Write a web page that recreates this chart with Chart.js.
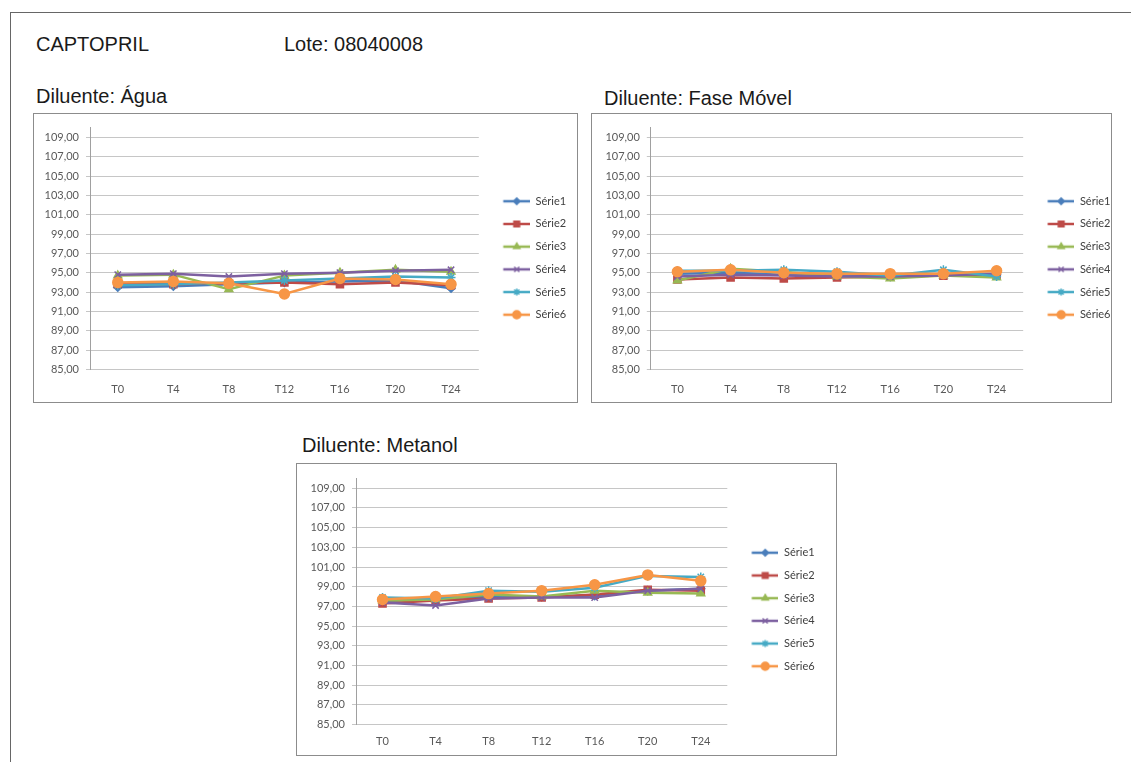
<!DOCTYPE html>
<html>
<head>
<meta charset="utf-8">
<script src="https://cdn.jsdelivr.net/npm/chart.js@4/dist/chart.umd.min.js"></script>
<style>
    body { margin: 0; background: #fff; width: 1131px; height: 762px; overflow: hidden; position: relative; }
    .frame { position: absolute; left: 10px; top: 12px; width: 1130px; height: 760px; border-top: 1px solid #666; border-left: 1px solid #666; }
    .txt { position: absolute; font: 20px "Liberation Sans", Arial, sans-serif; line-height: 24px; color: #1a1a1a; white-space: nowrap; }
    .box { position: absolute; border: 1px solid #8c8c8c; background: #fff; }
    .box canvas { display: block; }
</style>
</head>
<body>
<div class="frame"></div>
<div class="txt" style="left:36px;top:32px">CAPTOPRIL</div>
<div class="txt" style="left:284px;top:32px">Lote: 08040008</div>
<div class="txt" style="left:36px;top:84px">Diluente: Água</div>
<div class="txt" style="left:604px;top:86px">Diluente: Fase Móvel</div>
<div class="txt" style="left:302px;top:433px">Diluente: Metanol</div>

<div class="box" style="left:33px;top:113px;width:543px;height:288px"><canvas id="chartAgua" width="543" height="288"></canvas></div>
<div class="box" style="left:591px;top:113px;width:519px;height:288px"><canvas id="chartFase" width="519" height="288"></canvas></div>
<div class="box" style="left:296px;top:463px;width:539px;height:291px"><canvas id="chartMetanol" width="539" height="291"></canvas></div>

<script>
// --- Data ---
const timePoints = ['T0', 'T4', 'T8', 'T12', 'T16', 'T20', 'T24'];
const seriesNames = ['Série1', 'Série2', 'Série3', 'Série4', 'Série5', 'Série6'];
const yTickValues = [85, 87, 89, 91, 93, 95, 97, 99, 101, 103, 105, 107, 109];

// Diluente: Água
const agua1 = [93.5, 93.6, 93.8, 94.0, 94.1, 94.2, 93.4];
const agua2 = [93.8, 93.8, 93.9, 94.0, 93.8, 94.0, 93.7];
const agua3 = [94.7, 94.8, 93.3, 94.7, 95.0, 95.3, 95.1];
const agua4 = [94.8, 94.9, 94.6, 94.9, 95.0, 95.2, 95.3];
const agua5 = [93.7, 93.8, 94.0, 94.2, 94.4, 94.6, 94.5];
const agua6 = [94.0, 94.1, 93.9, 92.8, 94.4, 94.3, 93.8];

// Diluente: Fase Móvel
const fase1 = [94.9, 95.0, 94.8, 94.7, 94.6, 94.8, 94.8];
const fase2 = [94.3, 94.5, 94.4, 94.5, 94.6, 94.7, 94.8];
const fase3 = [94.2, 95.4, 95.1, 94.6, 94.4, 94.7, 94.5];
const fase4 = [94.6, 94.8, 94.7, 94.6, 94.6, 94.7, 94.9];
const fase5 = [95.2, 95.2, 95.3, 95.1, 94.7, 95.3, 94.6];
const fase6 = [95.1, 95.3, 95.0, 94.9, 94.9, 94.9, 95.2];

// Diluente: Metanol
const metanol1 = [97.5, 97.8, 98.0, 98.0, 98.1, 98.6, 98.8];
const metanol2 = [97.3, 97.6, 97.8, 97.9, 98.2, 98.7, 98.6];
const metanol3 = [97.6, 97.7, 98.2, 98.0, 98.6, 98.4, 98.3];
const metanol4 = [97.4, 97.1, 97.8, 97.9, 97.9, 98.6, 98.8];
const metanol5 = [97.9, 97.8, 98.6, 98.5, 98.9, 100.1, 100.0];
const metanol6 = [97.7, 98.0, 98.3, 98.6, 99.2, 100.2, 99.6];

// axis range
const yMin = 85;
const yMax = 110;

// --- Styles ---
const seriesColors = ['#4a7ebb', '#be4b48', '#98b954', '#7d60a0', '#46aac5', '#f79646'];
const seriesMarkers = ['rectRot', 'rect', 'triangle', 'crossRot', 'star', 'circle'];
const markerRadius = [4, 5, 4.5, 4.5, 4.5, 5];
const tickFont = { family: 'Lato, "Open Sans", sans-serif', size: 11 };
const legendFont = { family: 'Lato, "Open Sans", sans-serif', size: 11 };
const legendPadding = 11.7;
const iconMargin = 12.5;
const iconLine = 27;

// little line + marker pictures for the legend, like Excel's
function makeLegendIcon(i) {
    const c = document.createElement('canvas');
    c.width = iconMargin + iconLine;
    c.height = 12;
    const ctx = c.getContext('2d');
    ctx.strokeStyle = seriesColors[i];
    ctx.fillStyle = seriesColors[i];
    ctx.lineWidth = 2.5;
    ctx.beginPath();
    ctx.moveTo(iconMargin, 6);
    ctx.lineTo(iconMargin + iconLine, 6);
    ctx.stroke();
    ctx.lineWidth = 1.5;
    if (Chart.helpers && Chart.helpers.drawPoint) {
        Chart.helpers.drawPoint(ctx, { pointStyle: seriesMarkers[i], radius: markerRadius[i] * 0.8, rotation: 0, borderWidth: 1.5 }, iconMargin + iconLine / 2, 6);
    }
    return c;
}
const legendIcons = seriesColors.map((c, i) => makeLegendIcon(i));

function naturalLegendWidth() {
    const ctx = document.createElement('canvas').getContext('2d');
    ctx.font = legendFont.size + 'px ' + legendFont.family;
    const textW = Math.max(...seriesNames.map(n => ctx.measureText(n).width));
    return legendPadding + (iconMargin + iconLine) + legendFont.size / 2 + textW + 10;
}

function buildChart(canvasId, seriesData, layout) {
    const canvas = document.getElementById(canvasId);
    const legendWidth = canvas.width - layout.plotRight;
    const extraRight = Math.max(0, legendWidth - naturalLegendWidth());

    const datasets = seriesData.map((values, i) => ({
        label: seriesNames[i],
        data: values,
        borderColor: seriesColors[i],
        backgroundColor: seriesColors[i],
        pointStyle: seriesMarkers[i],
        pointRadius: markerRadius[i],
        pointBorderWidth: 1.5,
        pointBorderColor: seriesColors[i],
        pointBackgroundColor: seriesColors[i],
        borderWidth: 2.5,
        tension: 0,
        order: seriesData.length - i // last series drawn on top, like Excel
    }));

    return new Chart(canvas.getContext('2d'), {
        type: 'line',
        data: { labels: timePoints, datasets: datasets },
        options: {
            responsive: false,
            animation: false,
            devicePixelRatio: 1,
            layout: { padding: { left: 0, top: 0, right: extraRight, bottom: 0 } },
            scales: {
                x: {
                    type: 'category',
                    offset: true,
                    grid: { display: false, drawTicks: false },
                    border: { display: false },
                    ticks: { font: tickFont, color: '#595959', padding: layout.xLabelPad, maxRotation: 0 },
                    afterFit: (scale) => { scale.height = layout.xAxisHeight; }
                },
                // empty spacer on top so the plot starts lower while the legend stays centred on the box
                xTop: {
                    type: 'category',
                    position: 'top',
                    offset: true,
                    grid: { display: false, drawTicks: false },
                    border: { display: false },
                    ticks: { display: false },
                    afterFit: (scale) => { scale.height = layout.plotTop; }
                },
                y: {
                    min: yMin,
                    max: yMax,
                    grid: { color: '#c6c6c6', lineWidth: 1, drawTicks: true, tickLength: 4 },
                    border: { display: true, color: '#a0a0a0', width: 1 },
                    ticks: {
                        font: tickFont,
                        color: '#595959',
                        padding: 7,
                        callback: (v) => v.toFixed(2).replace('.', ',')
                    },
                    afterBuildTicks: (scale) => { scale.ticks = yTickValues.map(v => ({ value: v })); },
                    afterFit: (scale) => { scale.width = layout.yAxisWidth; }
                }
            },
            plugins: {
                legend: {
                    position: 'right',
                    align: 'center',
                    maxWidth: legendWidth,
                    labels: {
                        usePointStyle: true,
                        pointStyleWidth: iconMargin + iconLine,
                        padding: legendPadding,
                        font: legendFont,
                        color: '#404040',
                        sort: (a, b) => a.datasetIndex - b.datasetIndex,
                        generateLabels: (chart) => {
                            const items = Chart.defaults.plugins.legend.labels.generateLabels(chart);
                            items.forEach(item => { item.pointStyle = legendIcons[item.datasetIndex]; });
                            return items;
                        }
                    }
                },
                tooltip: { enabled: false }
            }
        }
    });
}

buildChart('chartAgua', [agua1, agua2, agua3, agua4, agua5, agua6],
    { plotTop: 13.7, xAxisHeight: 32.6, xLabelPad: 13.1, yAxisWidth: 56, plotRight: 444.8 });
buildChart('chartFase', [fase1, fase2, fase3, fase4, fase5, fase6],
    { plotTop: 13.7, xAxisHeight: 32.6, xLabelPad: 13.1, yAxisWidth: 58.8, plotRight: 431.2 });
buildChart('chartMetanol', [metanol1, metanol2, metanol3, metanol4, metanol5, metanol6],
    { plotTop: 14.4, xAxisHeight: 30.4, xLabelPad: 9.9, yAxisWidth: 59, plotRight: 430.3 });
</script>
</body>
</html>
